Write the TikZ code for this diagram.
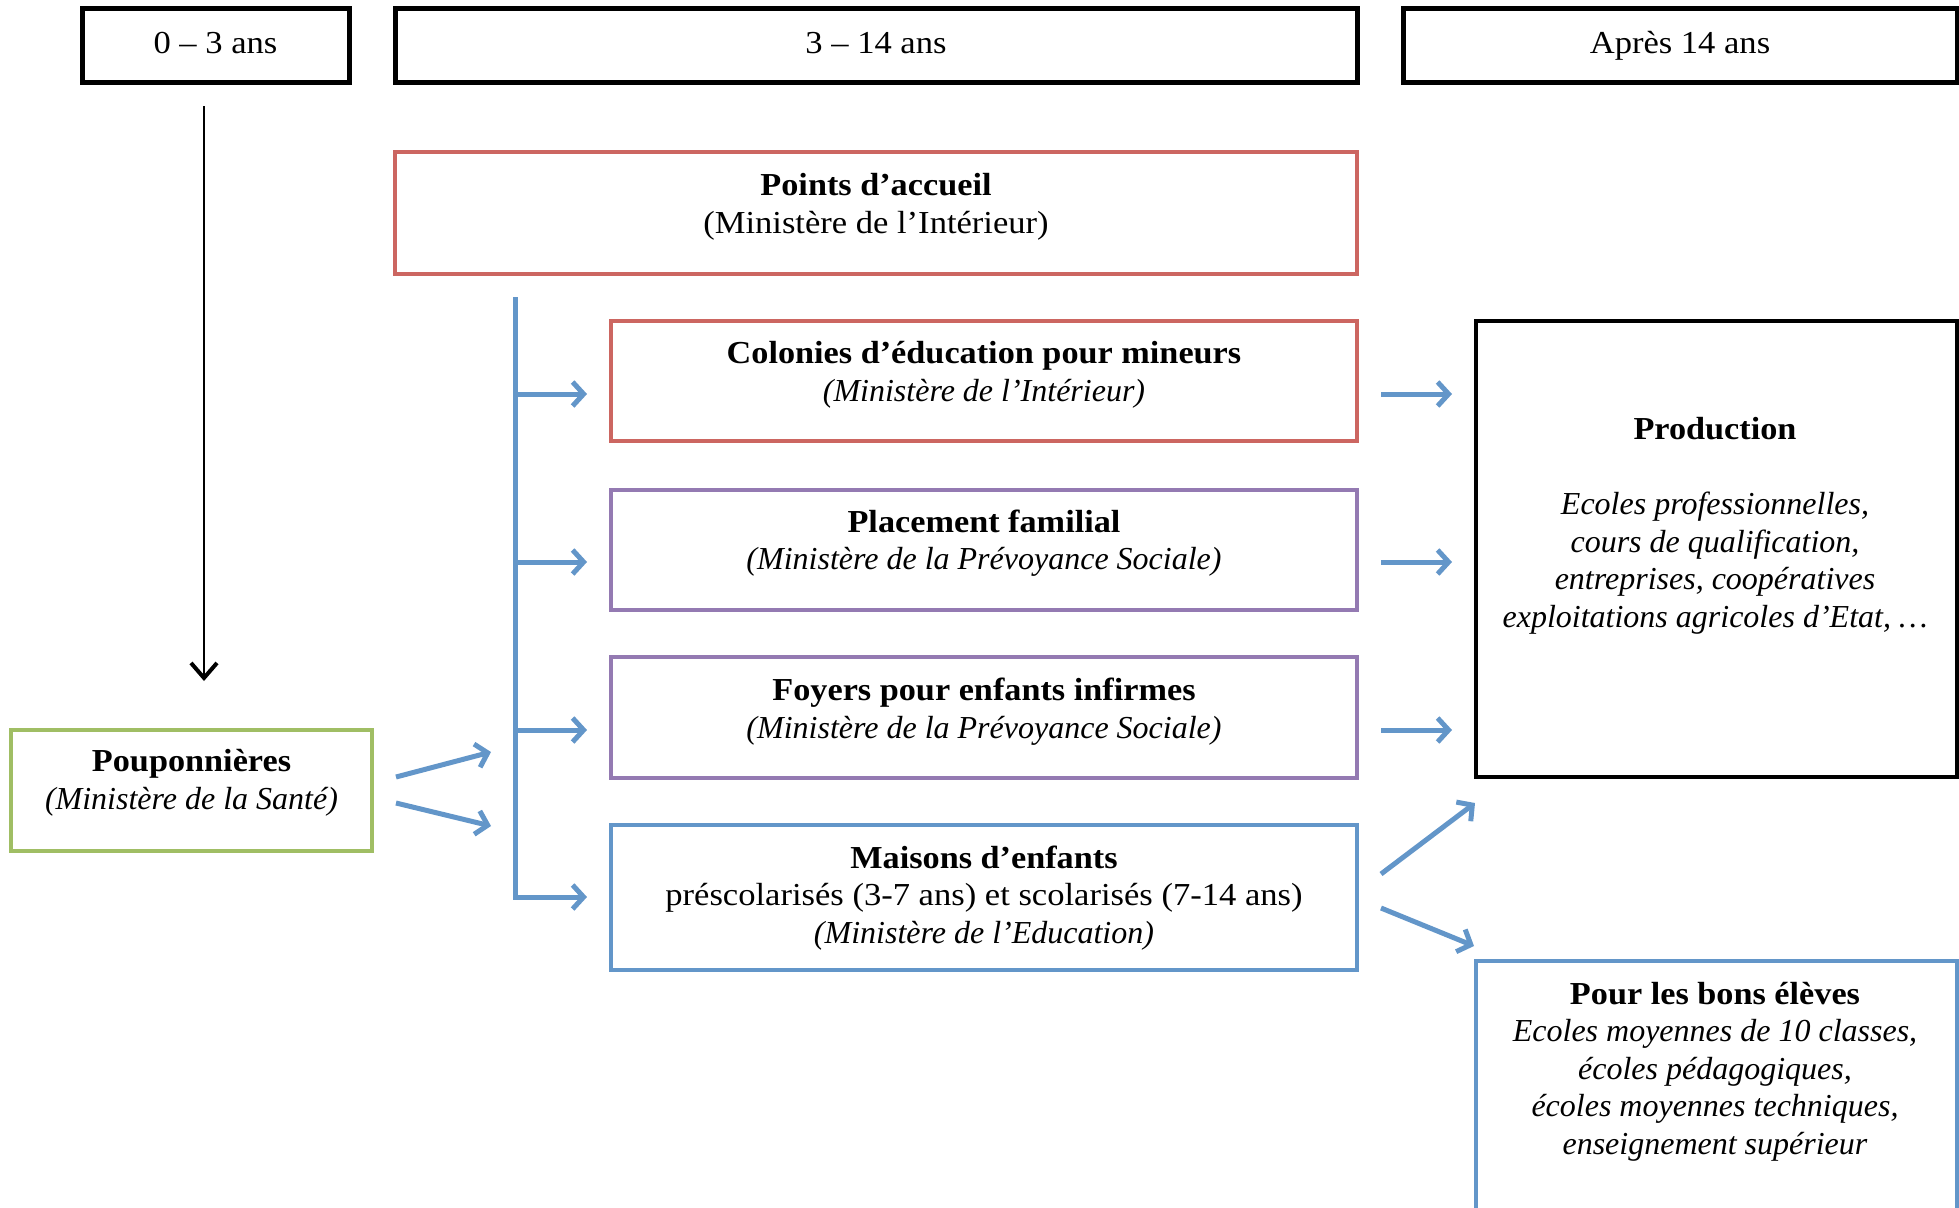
\documentclass[tikz,border=0pt]{standalone}
\usepackage{fontspec}
\setmainfont{Liberation Serif}[UprightFeatures={FakeStretch=1.08},BoldFeatures={FakeStretch=1.07},ItalicFeatures={FakeStretch=1.0}]
\usetikzlibrary{arrows.meta}
\definecolor{cred}{RGB}{204,102,97}
\definecolor{cpurple}{RGB}{148,122,178}
\definecolor{cgreen}{RGB}{160,190,100}
\definecolor{cblue}{RGB}{99,150,201}
\tikzset{
  hdr/.style={draw=black, line width=5pt, rectangle, inner sep=0pt},
  box/.style={rectangle, line width=4pt, inner sep=0pt},
  lbl/.style={align=center, inner sep=0pt, font=\fontsize{32}{37.5}\selectfont, yshift=-3pt},
  hlbl/.style={lbl, anchor=base},
  barrow/.style={draw=cblue, line width=5pt, -{Straight Barb[length=11pt,width=24pt,line width=5pt]}},
  karrow/.style={draw=black, line width=2.5pt, -{Straight Barb[length=15pt,width=26pt,line width=4pt]}}
}
\begin{document}
\begin{tikzpicture}[x=1pt,y=-1pt]
\useasboundingbox (0,0) rectangle (1959,1207);
% headers
\node[hdr, minimum width=267pt, minimum height=73pt] (h1) at (215.5,45.5) {};
\node[hlbl] (h1t) at (215.5,50) {0 -- 3 ans};
\node[hdr, minimum width=962pt, minimum height=73pt] (h2) at (876,45.5) {};
\node[hlbl] (h2t) at (876,50) {3 -- 14 ans};
\node[hdr, minimum width=554pt, minimum height=73pt] (h3) at (1680,45.5) {};
\node[hlbl] (h3t) at (1680,50) {Après 14 ans};
% Points d'accueil
\node[box, draw=cred, minimum width=962pt, minimum height=122pt] (pa) at (876,213) {};
\node[lbl] (pat) at (876,204) {\textbf{Points d’accueil}\\(Ministère de l’Intérieur)};
% Colonies
\node[box, draw=cred, minimum width=746pt, minimum height=120pt] (col) at (984,381) {};
\node[lbl] (colt) at (984,372) {\textbf{Colonies d’éducation pour mineurs}\\\textit{(Ministère de l’Intérieur)}};
% Placement
\node[box, draw=cpurple, minimum width=746pt, minimum height=120pt] (pla) at (984,550) {};
\node[lbl] (plat) at (984,540) {\textbf{Placement familial}\\\textit{(Ministère de la Prévoyance Sociale)}};
% Foyers
\node[box, draw=cpurple, minimum width=746pt, minimum height=121pt] (foy) at (984,717.5) {};
\node[lbl] (foyt) at (984,708.5) {\textbf{Foyers pour enfants infirmes}\\\textit{(Ministère de la Prévoyance Sociale)}};
% Maisons
\node[box, draw=cblue, minimum width=746pt, minimum height=145pt] (mai) at (984,897.5) {};
\node[lbl] (mait) at (984,895) {\textbf{Maisons d’enfants}\\préscolarisés (3-7 ans) et scolarisés (7-14 ans)\\\textit{(Ministère de l’Education)}};
% Production
\node[box, draw=black, minimum width=481pt, minimum height=456pt] (pro) at (1716.5,549) {};
\node[lbl] (prot) at (1715,523) {\textbf{Production}\\[37.5pt]\textit{Ecoles professionnelles,}\\\textit{cours de qualification,}\\\textit{entreprises, coopératives}\\\textit{exploitations agricoles d’Etat, …}};
% Bons eleves
\node[box, draw=cblue, minimum width=481pt, minimum height=280pt] (bon) at (1716.5,1101) {};
\node[lbl] (bont) at (1715,1068.5) {\textbf{Pour les bons élèves}\\\textit{Ecoles moyennes de 10 classes,}\\\textit{écoles pédagogiques,}\\\textit{écoles moyennes techniques,}\\\textit{enseignement supérieur}};
% Pouponnieres
\node[box, draw=cgreen, minimum width=361pt, minimum height=121pt] (pou) at (191.5,790.5) {};
\node[lbl] (pout) at (191.5,780) {\textbf{Pouponnières}\\\textit{(Ministère de la Santé)}};
% black arrow
\coordinate (ka) at (204,106);
\coordinate (kb) at (204,681);
\draw[karrow] (ka) -- (kb);
% blue trunk
\coordinate (t0) at (515,297);
\coordinate (t1) at (515,394);
\coordinate (t2) at (515,562);
\coordinate (t3) at (515,730);
\coordinate (t4) at (515,897);
\coordinate (e1) at (587,394);
\coordinate (e2) at (587,562);
\coordinate (e3) at (587,730);
\coordinate (e4) at (587,897);
\draw[barrow] (t0) -- (t4) -- (e4);
\draw[barrow] (t1) -- (e1);
\draw[barrow] (t2) -- (e2);
\draw[barrow] (t3) -- (e3);
% from pouponnieres
\coordinate (p1s) at (396,777);
\coordinate (p1e) at (491,752);
\coordinate (p2s) at (396,803);
\coordinate (p2e) at (491,826);
\draw[barrow] (p1s) -- (p1e);
\draw[barrow] (p2s) -- (p2e);
% right arrows
\coordinate (r1s) at (1381,394);
\coordinate (r1e) at (1452,394);
\coordinate (r2s) at (1381,562);
\coordinate (r2e) at (1452,562);
\coordinate (r3s) at (1381,730);
\coordinate (r3e) at (1452,730);
\draw[barrow] (r1s) -- (r1e);
\draw[barrow] (r2s) -- (r2e);
\draw[barrow] (r3s) -- (r3e);
% diagonal arrows
\coordinate (d1s) at (1381,874);
\coordinate (d1e) at (1475,803);
\coordinate (d2s) at (1381,908);
\coordinate (d2e) at (1474,946);
\draw[barrow] (d1s) -- (d1e);
\draw[barrow] (d2s) -- (d2e);
\end{tikzpicture}
\end{document}
